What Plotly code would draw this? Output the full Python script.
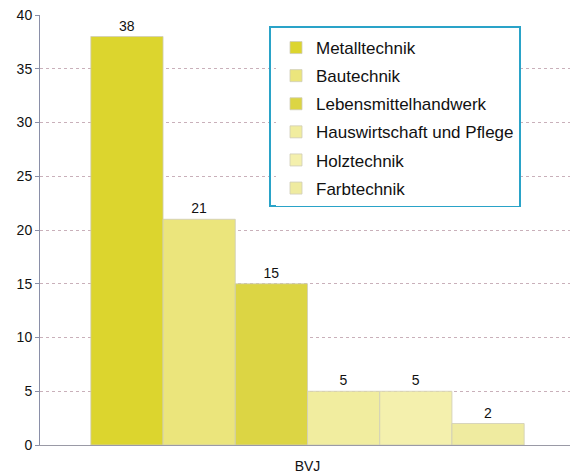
import plotly.graph_objects as go

categories = ["BVJ"]
series_names = ["Metalltechnik", "Bautechnik", "Lebensmittelhandwerk",
                "Hauswirtschaft und Pflege", "Holztechnik", "Farbtechnik"]
series_values = [38, 21, 15, 5, 5, 2]
series_colors = ["#dcd52e", "#ebe57c", "#dcd544", "#f1ed9f", "#f4f0ad", "#efeba0"]
y_ticks = [0, 5, 10, 15, 20, 25, 30, 35, 40]

# page has an 8px body margin -> compensate
W, H = 570, 468
L, T, R, B = 32, 7, 3, 31
PW = W - L - R
PH = H - T - B

def px_x(x):  # screen x -> paper fraction
    return (x - 8 - L) / PW

def px_y(y):  # screen y -> paper fraction
    return (H - B + 8 - y) / PH

fig = go.Figure()
for i, (name, val, col) in enumerate(zip(series_names, series_values, series_colors)):
    fig.add_trace(go.Bar(
        name=name, x=categories, y=[val], marker_color=col,
        marker_line=dict(color="#cfcdb8", width=0.8),
        text=[str(val)], textposition="outside",
        textfont=dict(size=14, color="#111111", family="Liberation Sans, Arial, sans-serif"),
        cliponaxis=False, legendgroup=f"g{i}",
    ))

fig.update_layout(
    width=W, height=H,
    margin=dict(l=L, r=R, t=T, b=B, autoexpand=False),
    paper_bgcolor="white", plot_bgcolor="white",
    barmode="group", bargap=0.19, bargroupgap=0,
    font=dict(family="Liberation Sans, Arial, sans-serif", size=14, color="#111111"),
    showlegend=True,
    legend=dict(
        x=px_x(276), y=px_y(30), xanchor="left", yanchor="top",
        bgcolor="rgba(255,255,255,1)", borderwidth=0,
        font=dict(size=17, color="#111111"),
        tracegroupgap=3, traceorder="grouped", itemwidth=30,
    ),
    xaxis=dict(showgrid=False, showline=True, linecolor="#9a9aa6", linewidth=1,
               ticks="", tickfont=dict(size=14), ticklabelstandoff=8, automargin=False),
    yaxis=dict(range=[0, 40], tickvals=y_ticks, showline=True, linecolor="#8a8fa8",
               linewidth=1, ticks="outside", ticklen=4, tickcolor="#8a8fa8",
               showgrid=True, gridcolor="#c9b0ba", griddash="dot", gridwidth=1,
               zeroline=False, tickfont=dict(size=14), ticklabeloverflow="allow",
               automargin=False),
    shapes=[dict(type="rect", xref="paper", yref="paper",
                 x0=px_x(270), x1=px_x(520),
                 y0=px_y(206), y1=px_y(27),
                 line=dict(color="#2aa3c8", width=2), fillcolor="rgba(0,0,0,0)",
                 layer="above")],
)

fig.write_html("out.html")
